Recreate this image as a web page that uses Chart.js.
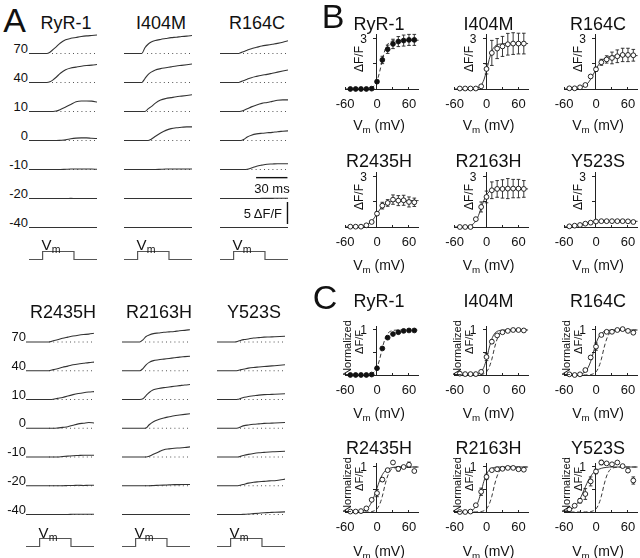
<!DOCTYPE html>
<html lang="en">
<head>
<meta charset="UTF-8">
<script src="https://cdn.jsdelivr.net/npm/chart.js"></script>
<title>RyR1 mutants - Ca2+ release</title>
<style>
  body { margin: 0; background: #fff; }
  #fig { position: relative; width: 640px; height: 558px; overflow: hidden; background: #fff;
         font-family: "Liberation Sans", Arial, sans-serif; color: #111; }
  #fig canvas { position: absolute; }
  .lbl { position: absolute; white-space: nowrap; line-height: 1; transform: translate(-50%, -50%); }
  .lbl.r { transform: translate(-100%, -50%); }
  .lbl.rot { transform: translate(-50%, -50%) rotate(-90deg); }
  .lbl sub { font-size: 0.7em; vertical-align: -0.3em; line-height: 0; }
</style>
</head>
<body>
<div id="fig"></div>
<script>
// ---- panel A : fluorescence traces (dF/F), one row per test voltage ----
const stepVoltages = [70, 40, 10, 0, -10, -20, -40];
const traceTime = [0, 10, 17, 20, 23, 26, 30, 35, 40, 45, 50, 55, 60, 65]; // ms

const tracesRyR1 = [
  [0, 0, 0, 0.3, 0.9, 1.5, 2.4, 3.1, 3.45, 3.65, 3.85, 4.0, 4.1, 4.2],
  [0, 0, 0, 0.15, 0.6, 1.2, 2.1, 2.9, 3.3, 3.5, 3.7, 3.85, 3.95, 4.1],
  [0, 0, 0, 0, 0, 0.1, 0.45, 1.0, 1.6, 2.2, 2.4, 2.4, 2.35, 2.15],
  [0, 0, 0, 0, 0, 0, 0.05, 0.15, 0.4, 0.55, 0.6, 0.6, 0.5, 0.45],
  [0, 0, 0, 0, 0, 0, 0, 0.05, 0.1, 0.1, 0.1, 0.1, 0.1, 0.05],
  [0, 0, 0, 0, 0, 0, 0, 0, 0.02, 0, 0, 0, 0, 0],
  [0, 0, 0, 0, 0, 0, 0, 0, 0, 0, 0, 0, 0, 0]
];
const tracesI404M = [
  [0, 0, 0, 1.3, 2.1, 2.6, 2.95, 3.2, 3.4, 3.6, 3.7, 3.85, 3.95, 4.1],
  [0, 0, 0, 0.9, 1.8, 2.35, 2.85, 3.15, 3.35, 3.55, 3.75, 3.9, 4.05, 4.2],
  [0, 0, 0, 0, 0.6, 1.1, 1.9, 2.6, 2.95, 3.15, 3.35, 3.5, 3.65, 3.8],
  [0, 0, 0, 0, 0, 0.3, 0.95, 1.7, 2.3, 2.7, 2.9, 3.0, 3.1, 3.1],
  [0, 0, 0, 0, 0, 0, 0, 0.05, 0.1, 0.1, 0.12, 0.1, 0.12, 0.1],
  [0, 0, 0, 0, 0, 0, 0, 0, 0, 0, 0, 0, 0, 0],
  [0, 0, 0, 0, 0, 0, 0, 0, 0, 0, 0, 0, 0, 0]
];
const tracesR164C = [
  [0, 0, 0, 0.2, 0.45, 0.75, 1.1, 1.4, 1.7, 1.9, 2.1, 2.3, 2.55, 2.9],
  [0, 0, 0, 0.2, 0.45, 0.75, 1.1, 1.4, 1.65, 1.85, 2.1, 2.35, 2.6, 2.85],
  [0, 0, 0, 0.05, 0.3, 0.6, 1.05, 1.5, 1.85, 2.05, 2.3, 2.55, 2.65, 2.65],
  [0, 0, 0, 0, 0.3, 0.8, 1.2, 1.5, 1.65, 1.75, 1.85, 2.0, 2.1, 2.2],
  [0, 0, 0, 0, 0, 0.05, 0.35, 0.75, 1.0, 1.2, 1.25, 1.3, 1.3, 1.3],
  [0, 0, 0, 0, 0, 0, 0, 0, 0.03, 0.03, 0.03, 0.05, 0.05, 0.05],
  [0, 0, 0, 0, 0, 0, 0, 0, 0, 0, 0, 0, 0, 0]
];
const tracesR2435H = [
  [0, 0, 0, 0, 0.05, 0.3, 0.5, 0.85, 1.1, 1.35, 1.55, 1.7, 1.8, 2.0],
  [0, 0, 0, 0, 0.05, 0.25, 0.45, 0.8, 1.05, 1.35, 1.55, 1.7, 1.85, 1.95],
  [0, 0, 0, 0, 0, 0.05, 0.25, 0.45, 0.8, 1.1, 1.35, 1.55, 1.7, 1.8],
  [0, 0, 0, 0, 0, 0, 0.05, 0.2, 0.35, 0.7, 1.0, 1.15, 1.3, 1.2],
  [0, 0, 0, 0, 0, 0, 0, 0.1, 0.2, 0.3, 0.35, 0.4, 0.4, 0.4],
  [0, 0, 0, 0, 0, 0, 0, 0, 0.05, 0.05, 0.1, 0.05, 0.1, 0.1],
  [0, 0, 0, 0, 0, 0, 0, 0, 0, 0.05, 0.05, 0.05, 0.05, 0.05]
];
const tracesR2163H = [
  [0, 0, 0, 0.5, 1.25, 1.6, 1.9, 2.05, 2.2, 2.3, 2.4, 2.55, 2.65, 2.8],
  [0, 0, 0, 0.5, 1.35, 1.9, 2.3, 2.5, 2.65, 2.8, 2.95, 3.1, 3.2, 3.3],
  [0, 0, 0, 0.15, 0.9, 1.6, 2.2, 2.5, 2.7, 2.85, 3.0, 3.15, 3.3, 3.4],
  [0, 0, 0, 0, 0.05, 0.8, 1.5, 2.0, 2.35, 2.6, 2.85, 3.0, 3.15, 3.3],
  [0, 0, 0, 0, 0, 0.15, 0.6, 1.15, 1.65, 1.85, 2.0, 2.05, 2.15, 2.3],
  [0, 0, 0, 0, 0, 0, 0.05, 0.1, 0.15, 0.2, 0.25, 0.25, 0.3, 0.3],
  [0, 0, 0, 0, 0, 0, 0, 0, 0, 0, 0, 0, 0, 0]
];
const tracesY523S = [
  [0, 0, 0, 0.15, 0.4, 0.55, 0.7, 0.9, 1.0, 1.1, 1.15, 1.2, 1.25, 1.3],
  [0, 0, 0, 0.05, 0.25, 0.4, 0.6, 0.75, 0.85, 0.95, 1.05, 1.15, 1.25, 1.35],
  [0, 0, 0, 0.05, 0.3, 0.5, 0.7, 0.85, 1.0, 1.1, 1.15, 1.2, 1.25, 1.3],
  [0, 0, 0, 0.05, 0.35, 0.6, 0.75, 0.9, 1.0, 1.1, 1.15, 1.2, 1.25, 1.3],
  [0, 0, 0, 0, 0.2, 0.4, 0.6, 0.8, 0.95, 1.05, 1.15, 1.2, 1.25, 1.3],
  [0, 0, 0, 0, 0.15, 0.35, 0.6, 0.8, 0.9, 1.0, 1.1, 1.15, 1.3, 1.5],
  [0, 0, 0, 0, 0, 0.05, 0.1, 0.2, 0.3, 0.4, 0.45, 0.5, 0.55, 0.6]
];

// voltage protocol (relative level) and scale bars
const pulseTime = [0, 13, 13, 43, 43, 65];
const pulseLevel = [0, 0, 1, 1, 0, 0];
const scaleBarMs = 30;
const scaleBarDF = 5;

// ---- panels B and C : peak dF/F vs Vm ----
const testVoltages = [-50, -40, -30, -20, -10, 0, 10, 20, 30, 40, 50, 60, 70];
const dfRyR1 = [0, 0, 0, 0, 0.02, 0.44, 1.74, 2.38, 2.7, 2.84, 2.9, 2.94, 2.94];
const errRyR1 = [0, 0, 0, 0, 0, 0.06, 0.22, 0.25, 0.28, 0.3, 0.33, 0.33, 0.33];
const dfI404M = [0.03, 0.03, 0.03, 0.03, 0.16, 1.2, 2.16, 2.42, 2.55, 2.68, 2.72, 2.72, 2.72];
const errI404M = [0, 0, 0, 0, 0.05, 0.3, 0.75, 0.6, 0.6, 0.65, 0.65, 0.62, 0.62];
const dfR164C = [0.04, 0.04, 0.1, 0.24, 0.75, 1.18, 1.6, 1.77, 1.86, 1.96, 2.04, 2.04, 2.02];
const errR164C = [0, 0, 0, 0.03, 0.08, 0.12, 0.18, 0.22, 0.35, 0.38, 0.4, 0.4, 0.35];
const dfR2435H = [0.02, 0.02, 0.02, 0.1, 0.3, 0.8, 1.28, 1.44, 1.64, 1.58, 1.6, 1.5, 1.48];
const errR2435H = [0, 0, 0, 0.03, 0.05, 0.1, 0.2, 0.2, 0.28, 0.3, 0.3, 0.3, 0.25];
const dfR2163H = [0, 0, 0, 0.47, 1.2, 1.8, 2.2, 2.28, 2.28, 2.3, 2.3, 2.3, 2.28];
const errR2163H = [0, 0, 0, 0.08, 0.3, 0.35, 0.5, 0.5, 0.55, 0.6, 0.55, 0.55, 0.5];
const dfY523S = [0.04, 0.08, 0.12, 0.2, 0.26, 0.33, 0.35, 0.35, 0.35, 0.35, 0.35, 0.34, 0.3];
const errY523S = [0, 0, 0, 0, 0.03, 0.04, 0.04, 0.04, 0.04, 0.04, 0.04, 0.04, 0.04];

const normRyR1 = [0, 0, 0, 0, 0.01, 0.15, 0.59, 0.83, 0.91, 0.95, 0.98, 0.99, 0.99];
const normI404M = [0.03, 0.02, 0.02, 0.02, 0.07, 0.4, 0.74, 0.88, 0.95, 0.98, 1.0, 1.0, 0.99];
const normErrI404M = [0, 0, 0, 0, 0, 0.08, 0.04, 0, 0, 0, 0, 0, 0];
const normR164C = [0.015, 0, 0.015, 0.11, 0.39, 0.63, 0.89, 0.96, 0.96, 1.0, 1.02, 0.98, 0.94];
const normErrR164C = [0, 0, 0, 0, 0.04, 0.08, 0.03, 0, 0, 0, 0, 0, 0];
const normR2435H = [0.01, 0.01, 0.02, 0.08, 0.27, 0.42, 0.72, 0.93, 1.1, 0.96, 1.0, 1.05, 0.91];
const normErrR2435H = [0, 0, 0, 0, 0, 0.08, 0.04, 0, 0, 0.05, 0, 0.06, 0];
const normR2163H = [0, 0, 0.01, 0.15, 0.45, 0.78, 0.93, 0.95, 0.96, 0.98, 0.98, 0.95, 0.94];
const normErrR2163H = [0, 0, 0, 0.03, 0.08, 0.06, 0, 0, 0, 0, 0, 0, 0];
const normY523S = [0.06, 0.14, 0.25, 0.4, 0.68, 0.9, 1.1, 1.08, 1.06, 1.1, 1.02, 0.92, 0.7];
const normErrY523S = [0, 0, 0.05, 0.12, 0.1, 0.05, 0.05, 0, 0, 0, 0, 0.03, 0.08];

// Boltzmann fits at these voltages
const fitVoltages = [-60, -50, -40, -30, -20, -15, -10, -5, 0, 5, 10, 15, 20, 25, 30, 40, 50, 60, 70, 78];
const fitRyR1 = [0, 0, 0, 0.002, 0.011, 0.03, 0.08, 0.2, 0.49, 1.03, 1.75, 2.34, 2.68, 2.83, 2.89, 2.92, 2.92, 2.92, 2.92, 2.92];
const fitI404M = [0, 0, 0, 0.005, 0.033, 0.088, 0.23, 0.54, 1.09, 1.76, 2.27, 2.53, 2.65, 2.69, 2.71, 2.72, 2.72, 2.72, 2.72, 2.72];
const fitR164C = [0.002, 0.005, 0.02, 0.065, 0.22, 0.36, 0.59, 0.88, 1.18, 1.46, 1.66, 1.81, 1.89, 1.94, 1.97, 1.99, 2.0, 2.0, 2.0, 2.0];
const fitR2435H = [0, 0.003, 0.01, 0.036, 0.12, 0.21, 0.35, 0.55, 0.79, 1.03, 1.23, 1.37, 1.46, 1.51, 1.55, 1.57, 1.58, 1.58, 1.58, 1.58];
const fitR2163H = [0, 0.003, 0.015, 0.079, 0.36, 0.69, 1.14, 1.59, 1.92, 2.11, 2.2, 2.25, 2.27, 2.28, 2.28, 2.28, 2.28, 2.28, 2.28, 2.28];
const fitY523S = [0.01, 0.026, 0.062, 0.13, 0.21, 0.25, 0.28, 0.3, 0.314, 0.325, 0.33, 0.335, 0.338, 0.34, 0.34, 0.34, 0.34, 0.34, 0.34, 0.34];

const normFitRyR1 = [0, 0, 0, 0.001, 0.004, 0.01, 0.027, 0.07, 0.17, 0.35, 0.6, 0.8, 0.92, 0.97, 0.99, 1, 1, 1, 1, 1];
const normFitWTref = [0, 0, 0, 0, 0.001, 0.004, 0.01, 0.027, 0.069, 0.17, 0.35, 0.6, 0.8, 0.92, 0.97, 0.995, 1, 1, 1, 1];
const normFitI404M = [0, 0, 0, 0.002, 0.01, 0.027, 0.069, 0.17, 0.35, 0.6, 0.8, 0.92, 0.97, 0.99, 1, 1, 1, 1, 1, 1];
const normFitR164C = [0, 0, 0.003, 0.015, 0.076, 0.16, 0.3, 0.5, 0.7, 0.84, 0.92, 0.965, 0.985, 0.995, 1, 1, 1, 1, 1, 1];
const normFitR2435H = [0, 0.001, 0.004, 0.016, 0.062, 0.12, 0.22, 0.36, 0.53, 0.7, 0.83, 0.91, 0.95, 0.976, 0.99, 1, 1, 1, 1, 1];
const normFitR2163H = [0, 0.0006, 0.004, 0.022, 0.12, 0.25, 0.45, 0.68, 0.84, 0.93, 0.97, 0.99, 1, 1, 1, 1, 1, 1, 1, 1];
const normFitY523S = [0.015, 0.043, 0.12, 0.29, 0.56, 0.69, 0.79, 0.87, 0.92, 0.95, 0.97, 0.985, 0.99, 1, 1, 1, 1, 1, 1, 1];

const xTickValues = [-60, -30, 0, 30, 60];
const xTickLabels = [-60, 0, 60];

// ---------------------------------------------------------------
Chart.defaults.font.family = "'Liberation Sans', Arial, sans-serif";
Chart.defaults.color = '#111';
Chart.defaults.animation = false;

const fig = document.getElementById('fig');
const ink = '#222';

function addText(html, x, y, size, cls) {
  const d = document.createElement('div');
  d.className = 'lbl' + (cls ? ' ' + cls : '');
  d.style.left = x + 'px';
  d.style.top = y + 'px';
  d.style.fontSize = size + 'px';
  d.innerHTML = html;
  fig.appendChild(d);
}

function addCanvas(x, y, w, h) {
  const c = document.createElement('canvas');
  c.width = w; c.height = h;
  c.style.left = x + 'px'; c.style.top = y + 'px';
  c.style.width = w + 'px'; c.style.height = h + 'px';
  fig.appendChild(c);
  return c;
}

function xy(xs, ys) {
  return xs.map((x, i) => ({ x: x, y: ys[i] }));
}

const baseOptions = {
  responsive: false,
  devicePixelRatio: 1,
  events: [],
  plugins: { legend: { display: false }, tooltip: { enabled: false } }
};

// error bars drawn under the points, through the chart scales
const errorBarPlugin = {
  id: 'errorBars',
  beforeDatasetsDraw(chart) {
    const ctx = chart.ctx, xs = chart.scales.x, ys = chart.scales.y;
    chart.data.datasets.forEach(ds => {
      if (!ds.errorBars) return;
      ctx.save();
      ctx.strokeStyle = ink;
      ctx.lineWidth = 0.9;
      ds.data.forEach((p, i) => {
        const e = ds.errorBars[i];
        if (!e) return;
        const x = xs.getPixelForValue(p.x);
        const y1 = ys.getPixelForValue(p.y - e), y2 = ys.getPixelForValue(p.y + e);
        ctx.beginPath();
        ctx.moveTo(x, y1); ctx.lineTo(x, y2);
        ctx.moveTo(x - 1.8, y1); ctx.lineTo(x + 1.8, y1);
        ctx.moveTo(x - 1.8, y2); ctx.lineTo(x + 1.8, y2);
        ctx.stroke();
      });
      ctx.restore();
    });
  }
};

// ---------------- panel A ----------------
const traceW = 68;
const pxPerDF = 4.4;
const dotStart = 22;

const traceBlocks = [
  { base0: 53.5, step: 29, titleY: 23, pulseY: 259.5, vmY: 244, labelRight: 28,
    cols: [{ name: 'RyR-1', x: 29, traces: tracesRyR1 }, { name: 'I404M', x: 124, traces: tracesI404M }, { name: 'R164C', x: 220, traces: tracesR164C }] },
  { base0: 342, step: 28.75, titleY: 312, pulseY: 546.5, vmY: 532, labelRight: 26,
    cols: [{ name: 'R2435H', x: 26, traces: tracesR2435H }, { name: 'R2163H', x: 122, traces: tracesR2163H }, { name: 'Y523S', x: 217, traces: tracesY523S }] }
];

function traceChart(x, baseY, values) {
  const h = 29, above = 24;
  const top = Math.round(baseY - above);
  const yOff = baseY - top;
  const c = addCanvas(x, top, traceW, h);
  new Chart(c, {
    type: 'line',
    data: {
      datasets: [
        { data: xy(traceTime, values), borderColor: '#333', borderWidth: 1.1, pointRadius: 0,
          cubicInterpolationMode: 'monotone', clip: false },
        { data: [{ x: dotStart, y: 0 }, { x: traceTime[traceTime.length - 1], y: 0 }], borderColor: '#555',
          borderWidth: 1, borderDash: [1, 3.2], pointRadius: 0 }
      ]
    },
    options: Object.assign({}, baseOptions, {
      layout: { padding: 0 },
      scales: {
        x: { type: 'linear', display: false, min: 0, max: 65 },
        y: { display: false, min: -(h - yOff) / pxPerDF, max: yOff / pxPerDF }
      }
    })
  });
}

function pulseChart(x, lowY) {
  const h = 14, below = 3, step = 8;
  const top = Math.round(lowY - (h - below));
  const off = lowY - top;
  const c = addCanvas(x, top, traceW, h);
  new Chart(c, {
    type: 'line',
    data: { datasets: [{ data: xy(pulseTime, pulseLevel), borderColor: '#555', borderWidth: 1.2, pointRadius: 0, tension: 0, clip: false }] },
    options: Object.assign({}, baseOptions, {
      layout: { padding: 0 },
      scales: {
        x: { type: 'linear', display: false, min: 0, max: 65 },
        y: { display: false, min: -(h - off) / step, max: off / step }
      }
    })
  });
}

traceBlocks.forEach(block => {
  block.cols.forEach((col, ci) => {
    addText(col.name, col.x + 37, block.titleY, 18);
    stepVoltages.forEach((v, i) => {
      const base = block.base0 + i * block.step;
      traceChart(col.x, base, col.traces[i]);
      if (ci === 0) addText(String(v), block.labelRight, base - 6, 13, 'r');
    });
    pulseChart(col.x, block.pulseY);
    addText('V<sub>m</sub>', col.x + 22, block.vmY, 15);
  });
});

// scale bars, drawn in trace units
(function () {
  const left = traceBlocks[0].cols[2].x, top = 172, h = 58, padR = 4;
  const barEnd = 64.5, hBarY = 11.9, vBarY = 1.36;
  const c = addCanvas(left, top, traceW + padR, h);
  new Chart(c, {
    type: 'scatter',
    data: {
      datasets: [
        { data: [{ x: barEnd - scaleBarMs, y: hBarY }, { x: barEnd, y: hBarY }], showLine: true, borderColor: '#111', borderWidth: 1.4, pointRadius: 0, clip: false },
        { data: [{ x: barEnd, y: vBarY }, { x: barEnd, y: vBarY + scaleBarDF }], showLine: true, borderColor: '#111', borderWidth: 1.4, pointRadius: 0, clip: false }
      ]
    },
    options: Object.assign({}, baseOptions, {
      layout: { padding: { left: 0, top: 0, bottom: 0, right: padR } },
      scales: {
        x: { type: 'linear', display: false, min: 0, max: 65 },
        y: { display: false, min: 0, max: h / pxPerDF }
      }
    })
  });
  addText(scaleBarMs + ' ms', 272, 188, 13);
  addText(scaleBarDF + ' &Delta;F/F', 282, 212.5, 13, 'r');
})();

// ---------------- panels B and C ----------------
const kV = 0.533; // px per mV
const xMin = -60, xMax = 78;
const ivCols = [377, 486.5, 596];
const ivKinds = {
  B: { pxPerUnit: 16.7, yMax: 3.24, yTicks: [0, 1.5, 3],
       rows: [{ base: 89, title: 24, xt: 125 }, { base: 227, title: 161, xt: 265 }] },
  C: { pxPerUnit: 45, yMax: 1.08, yTicks: [0, 0.5, 1],
       rows: [{ base: 375, title: 301, xt: 413 }, { base: 512, title: 448, xt: 551 }] }
};

const ivPanels = [
  { name: 'RyR-1', kind: 'B', row: 0, col: 0, v: dfRyR1, err: errRyR1, filled: true, fits: [{ y: fitRyR1, dash: true }] },
  { name: 'I404M', kind: 'B', row: 0, col: 1, v: dfI404M, err: errI404M, fits: [{ y: fitI404M }] },
  { name: 'R164C', kind: 'B', row: 0, col: 2, v: dfR164C, err: errR164C, fits: [{ y: fitR164C }] },
  { name: 'R2435H', kind: 'B', row: 1, col: 0, v: dfR2435H, err: errR2435H, fits: [{ y: fitR2435H }] },
  { name: 'R2163H', kind: 'B', row: 1, col: 1, v: dfR2163H, err: errR2163H, fits: [{ y: fitR2163H }] },
  { name: 'Y523S', kind: 'B', row: 1, col: 2, v: dfY523S, err: errY523S, fits: [{ y: fitY523S }] },
  { name: 'RyR-1', kind: 'C', row: 0, col: 0, v: normRyR1, err: null, filled: true, fits: [{ y: normFitRyR1, dash: true }] },
  { name: 'I404M', kind: 'C', row: 0, col: 1, v: normI404M, err: normErrI404M, fits: [{ y: normFitI404M }, { y: normFitWTref, dash: true }] },
  { name: 'R164C', kind: 'C', row: 0, col: 2, v: normR164C, err: normErrR164C, fits: [{ y: normFitR164C }, { y: normFitWTref, dash: true }] },
  { name: 'R2435H', kind: 'C', row: 1, col: 0, v: normR2435H, err: normErrR2435H, fits: [{ y: normFitR2435H }, { y: normFitWTref, dash: true }] },
  { name: 'R2163H', kind: 'C', row: 1, col: 1, v: normR2163H, err: normErrR2163H, fits: [{ y: normFitR2163H }, { y: normFitWTref, dash: true }] },
  { name: 'Y523S', kind: 'C', row: 1, col: 2, v: normY523S, err: normErrY523S, fits: [{ y: normFitY523S }, { y: normFitWTref, dash: true }] }
];

function ivChart(p) {
  const kind = ivKinds[p.kind], row = kind.rows[p.row];
  const x0 = ivCols[p.col], yBase = row.base;
  const left = x0 + xMin * kV, right = x0 + xMax * kV;
  const top = yBase - kind.yMax * kind.pxPerUnit;
  const cx = Math.floor(left - 24), cy = Math.floor(top - 10);
  const w = Math.ceil(right + 14 - cx), h = Math.ceil(yBase + 32 - cy);
  const c = addCanvas(cx, cy, w, h);
  const topTick = kind.yTicks[kind.yTicks.length - 1];

  const datasets = [{
    data: xy(testVoltages, p.v), errorBars: p.err, showLine: false,
    pointRadius: 2.4, pointBorderWidth: 0.9, pointBorderColor: '#111',
    pointBackgroundColor: p.filled ? '#111' : '#fff', clip: false
  }];
  p.fits.forEach(f => datasets.push({
    data: xy(fitVoltages, f.y), showLine: true, pointRadius: 0, borderColor: ink,
    borderWidth: 0.9, borderDash: f.dash ? [4, 2.5] : [], cubicInterpolationMode: 'monotone', clip: false
  }));

  new Chart(c, {
    type: 'scatter',
    data: { datasets: datasets },
    plugins: [errorBarPlugin],
    options: Object.assign({}, baseOptions, {
      layout: { padding: { left: left - cx, right: cx + w - right, top: top - cy, bottom: cy + h - yBase } },
      scales: {
        x: {
          type: 'linear', min: xMin, max: xMax, position: { y: 0 },
          afterBuildTicks: s => { s.ticks = xTickValues.map(v => ({ value: v })); },
          ticks: { callback: v => (xTickLabels.includes(v) ? String(v) : ''), padding: 11, autoSkip: false, maxRotation: 0, font: { size: 13 } },
          grid: { drawOnChartArea: false, drawTicks: true, tickLength: -3, color: ink },
          border: { color: ink, width: 1 }
        },
        y: {
          type: 'linear', min: 0, max: kind.yMax, position: { x: 0 },
          afterBuildTicks: s => { s.ticks = kind.yTicks.map(v => ({ value: v })); },
          ticks: { display: false },
          grid: { drawOnChartArea: false, drawTicks: true, tickLength: 3, color: ink },
          border: { color: ink, width: 1 }
        }
      }
    })
  });

  addText(String(topTick), x0 - 10, yBase - topTick * kind.pxPerUnit, 12, 'r');
  addText(p.name, x0 + 2, row.title, 18);
  addText('V<sub>m</sub> (mV)', x0 + 2, row.xt, 14);
  if (p.kind === 'B') {
    addText('&Delta;F/F', x0 - 18, yBase - 30, 12, 'rot');
  } else {
    addText('Normalized', x0 - 30, yBase - 27, 11, 'rot');
    addText('&Delta;F/F', x0 - 18, yBase - 33, 11, 'rot');
  }
}

ivPanels.forEach(ivChart);

// panel letters
addText('A', 14.5, 20, 34);
addText('B', 333, 16, 34);
addText('C', 325, 297, 34);
</script>
</body>
</html>
